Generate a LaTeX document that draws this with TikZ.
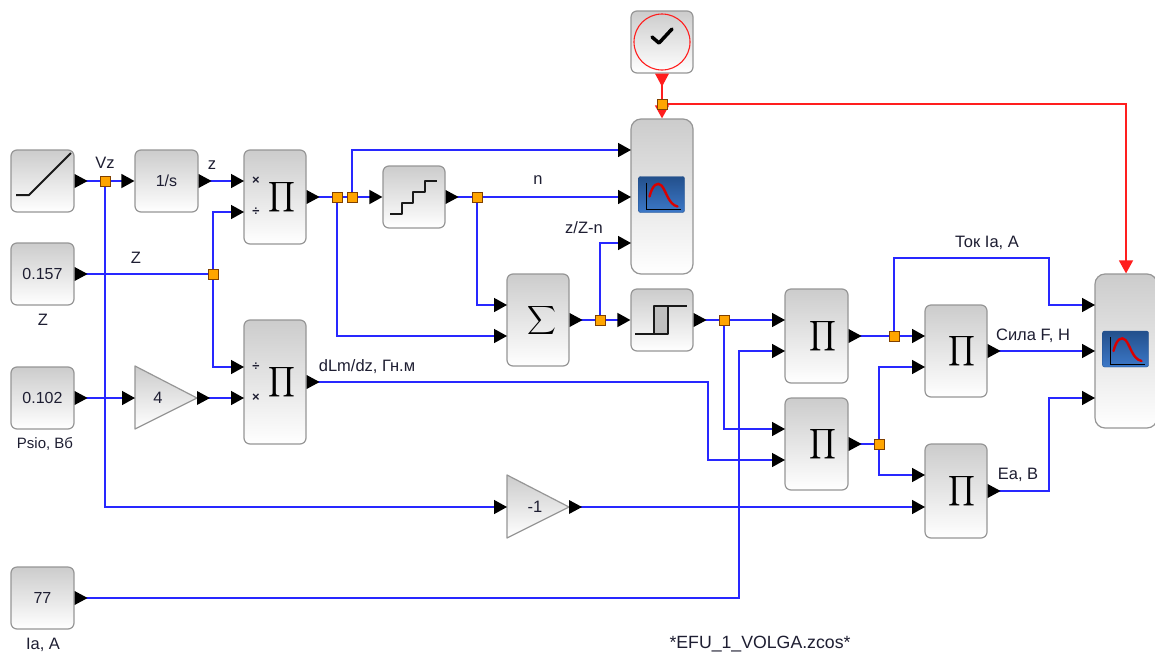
\documentclass[tikz,border=0pt]{standalone}
\usepackage{fontspec}
\setmainfont{Liberation Sans}
\usetikzlibrary{arrows.meta,calc}
\definecolor{wireblue}{RGB}{40,40,255}
\definecolor{wirered}{RGB}{255,30,30}
\definecolor{junc}{RGB}{255,165,0}
\definecolor{blkedge}{RGB}{150,150,150}
\definecolor{txtc}{RGB}{30,30,50}
\definecolor{icontop}{RGB}{35,80,140}
\definecolor{iconbot}{RGB}{60,120,200}
\tikzset{
  blockbox/.style={draw=blkedge,line width=1.2pt,rounded corners=6pt,top color=black!20,bottom color=white,
    inner sep=0pt,text=txtc,font=\fontsize{16}{18}\selectfont},
  wire/.style={draw=wireblue,line width=1.5pt},
  inwire/.style={wire,-{Triangle[length=13pt,width=14pt,color=black]}},
  redwire/.style={draw=wirered,line width=1.5pt},
  redin/.style={redwire,-{Triangle[length=13pt,width=14pt,color=wirered]}},
  joint/.style={draw=black!50!orange,fill=junc,line width=0.7pt,minimum size=10pt,inner sep=0pt},
  lbl/.style={text=txtc,font=\fontsize{16.5}{18}\selectfont,inner sep=0pt},
  signmark/.style={text=txtc,font=\fontsize{13}{14}\selectfont\bfseries,inner sep=0pt},
  face/.style={inner sep=0pt}
}
\newcommand{\blk}[6]{\node[blockbox,minimum width=#4pt-#2pt,minimum height=#5pt-#3pt] (#1) at ({(#2+#4)/2},{(#3+#5)/2}) {#6};}
\newcommand{\outT}[1]{\fill[black] (#1) ++(0,7) -- ++(13,-7) -- ++(-13,-7) -- cycle;}
\newcommand{\bigprod}{\scalebox{2.1}{$\displaystyle\prod$}}
\newcommand{\scopeicon}[2]{%
  \begin{scope}[shift={(#1,#2)}]
    \shade[top color=icontop,bottom color=iconbot,draw=icontop,rounded corners=2pt] (0,0) rectangle (46,36);
    \draw[black,line width=1pt] (8,6) -- (8,33) -- (42,33);
    \draw[red!85!black,line width=2.4pt,line cap=round] (11,20) .. controls (14,8) and (19,5) .. (23,9) .. controls (28,15) and (30,28) .. (39,30);
  \end{scope}}
\begin{document}
\begin{tikzpicture}[x=1pt,y=-1pt]
\useasboundingbox (0,0) rectangle (1155,659);
\fill[white] (0,0) rectangle (1155,659);
% blocks
\blk{ramp}{11}{150}{74}{212}{}
\blk{integ}{135}{150}{198}{212}{1/s}
\blk{prodA}{244}{150}{306}{244}{}
\blk{constZ}{11}{243}{74}{305}{0.157}
\blk{constPsi}{11}{367}{74}{429}{0.102}
\blk{prodB}{244}{320}{306}{444}{}
\blk{stair}{383}{166}{445}{228}{}
\blk{sumb}{507}{274}{569}{366}{}
\node[blockbox,rounded corners=10pt,minimum width=62pt,minimum height=155pt] (scopeA) at (662,196.5) {};
\blk{clock}{631}{11}{693}{73}{}
\blk{relay}{631}{289}{693}{351}{}
\blk{prodC}{785}{289}{848}{383}{}
\blk{prodD}{785}{398}{848}{490}{}
\blk{prodE}{925}{305}{987}{397}{}
\blk{prodF}{925}{444}{987}{538}{}
\node[blockbox,rounded corners=10pt,minimum width=62pt,minimum height=154pt] (scopeB) at (1126,351) {};
\blk{constIa}{11}{567}{74}{629}{77}
% gains
\shade[top color=black!20,bottom color=white,draw=blkedge,line width=1.2pt,line join=round] (135,366) -- (197,398) -- (135,429) -- cycle;
\shade[top color=black!20,bottom color=white,draw=blkedge,line width=1.2pt,line join=round] (507,475) -- (569,507) -- (507,538) -- cycle;
\node[lbl] (gainA) at (158,398) {4};
\node[lbl] (gainB) at (535,507) {-1};
\coordinate (gainAin) at (135,398); \coordinate (gainAout) at (197,398);
\coordinate (gainBin) at (507,507); \coordinate (gainBout) at (569,507);
% product faces
\node[face] (piA) at (282,197) {\bigprod};
\node[face] (piB) at (282,382) {\bigprod};
\node[face] (piC) at ($(prodC)+(6,0)$) {\bigprod};
\node[face] (piD) at ($(prodD)+(6,0)$) {\bigprod};
\node[face] (piE) at ($(prodE)+(6,0)$) {\bigprod};
\node[face] (piF) at ($(prodF)+(6,0)$) {\bigprod};
\node[face] (sigma) at ($(sumb)+(4,0)$) {\scalebox{2}{$\displaystyle\sum$}};
\node[signmark] (mA1) at (256,181) {×};
\node[signmark] (mA2) at (256,212) {÷};
\node[signmark] (mB1) at (256,367) {÷};
\node[signmark] (mB2) at (256,398) {×};
% icons
\draw[black!90,line width=2pt,line join=round] (16,195) -- (29,195) -- (71,153);
\draw[black!90,line width=2pt,line join=round] (390,214) -- (402,214) -- (402,203) -- (413,203) -- (413,192) -- (425,192) -- (425,181) -- (437,181);
\fill[black!25] (654,306) rectangle (668,334);
\draw[black!90,line width=1.7pt,line join=round] (635,334) -- (668,334) -- (668,306);
\draw[black!90,line width=1.7pt,line join=round] (654,334) -- (654,306) -- (687,306);
\draw[wirered,line width=1.1pt] (662,42) circle (28);
\draw[black,line width=3.5pt,line cap=round,line join=round] (652,37) -- (659,43) -- (672,29);
\scopeicon{638.5}{176.5}
\scopeicon{1102.5}{331}
% port coordinates
\coordinate (pAa) at (244,181); \coordinate (pAb) at (244,212);
\coordinate (pBa) at (244,367); \coordinate (pBb) at (244,398);
\coordinate (sAa) at (631,150); \coordinate (sAb) at (631,197); \coordinate (sAc) at (631,243);
\coordinate (sumA) at (507,305); \coordinate (sumB) at (507,336);
\coordinate (pCa) at (785,320); \coordinate (pCb) at (785,351);
\coordinate (pDa) at (785,429); \coordinate (pDb) at (785,460);
\coordinate (pEa) at (925,336); \coordinate (pEb) at (925,367);
\coordinate (pFa) at (925,475); \coordinate (pFb) at (925,507);
\coordinate (sBa) at (1095,305); \coordinate (sBb) at (1095,351); \coordinate (sBc) at (1095,398);
% joints, named first so that wires can refer to them
\node[joint] (jA) at (105,181) {};
\node[joint] (jB) at (213,274) {};
\node[joint] (jC) at (337,197) {};
\node[joint] (jD) at (352,197) {};
\node[joint] (jE) at (477,197) {};
\node[joint] (jF) at (600,320) {};
\node[joint] (jG) at (724,320) {};
\node[joint] (jH) at (894,336) {};
\node[joint] (jI) at (879,444) {};
\node[joint] (jJ) at (662,104) {};
% wires
\draw[wire] (ramp.east) -- (jA.center);
\draw[inwire] (jA.center) -- (integ.west);
\draw[inwire] (jA.center) -- (jA.center |- gainBin) -- (gainBin);
\draw[inwire] (integ.east) -- (pAa);
\draw[wire] (constZ.east) -- (jB.center);
\draw[inwire] (jB.center) -- (jB.center |- pAb) -- (pAb);
\draw[inwire] (jB.center) -- (jB.center |- pBa) -- (pBa);
\draw[inwire] (constPsi.east) -- (gainAin);
\draw[inwire] (gainAout) -- (pBb);
\draw[wire] (prodA.east) -- (jC.center);
\draw[wire] (jC.center) -- (jD.center);
\draw[inwire] (jD.center) -- (stair.west);
\draw[inwire] (jD.center) -- (jD.center |- sAa) -- (sAa);
\draw[inwire] (jC.center) -- (jC.center |- sumB) -- (sumB);
\draw[wire] (stair.east) -- (jE.center);
\draw[inwire] (jE.center) -- (sAb);
\draw[inwire] (jE.center) -- (jE.center |- sumA) -- (sumA);
\draw[wire] (sumb.east) -- (jF.center);
\draw[inwire] (jF.center) -- (relay.west);
\draw[inwire] (jF.center) -- (jF.center |- sAc) -- (sAc);
\draw[wire] (relay.east) -- (jG.center);
\draw[inwire] (jG.center) -- (pCa);
\draw[inwire] (jG.center) -- (jG.center |- pDa) -- (pDa);
\draw[inwire] (prodB.east) -- (708,382) -- (708,460) -- (pDb);
\draw[inwire] (constIa.east) -- (739,598) -- (739,351) -- (pCb);
\draw[wire] (prodC.east) -- (jH.center);
\draw[inwire] (jH.center) -- (pEa);
\draw[inwire] (jH.center) -- (894,258) -- (1049,258) -- (1049,305) -- (sBa);
\draw[wire] (prodD.east) -- (jI.center);
\draw[inwire] (jI.center) -- (jI.center |- pEb) -- (pEb);
\draw[inwire] (jI.center) -- (jI.center |- pFa) -- (pFa);
\draw[inwire] (gainBout) -- (pFb);
\draw[inwire] (prodE.east) -- (sBb);
\draw[inwire] (prodF.east) -- (1049,491) -- (1049,398) -- (sBc);
\draw[redwire] (clock.south) -- (jJ.center);
\draw[redin] (jJ.center) -- (scopeA.north);
\draw[redin] (jJ.center) -- (1126,104) -- (scopeB.north);
% output triangles
\foreach \p in {ramp.east,integ.east,prodA.east,constZ.east,constPsi.east,prodB.east,stair.east,sumb.east,relay.east,prodC.east,prodD.east,prodE.east,prodF.east,constIa.east,gainAout,gainBout}{\outT{\p}}
\fill[wirered] (clock.south) ++(-7,0) -- ++(14,0) -- ++(-7,13) -- cycle;
% joint faces over the wires
\foreach \j in {jA,jB,jC,jD,jE,jF,jG,jH,jI,jJ}{\node[joint] at (\j.center) {};}
% labels
\node[lbl] (tVz) at (105,163) {Vz};
\node[lbl] (tz) at (212,165) {z};
\node[lbl] (tZa) at (136,258) {Z};
\node[lbl] (tZb) at (43,320) {Z};
\node[lbl,font=\fontsize{15}{17}\selectfont] (tPsi) at (45,444) {Psio, Вб};
\node[lbl] (tIa) at (43,645) {Ia, A};
\node[lbl] (tn) at (538,180) {n};
\node[lbl] (tzZ) at (584,228) {z/Z-n};
\node[lbl] (tdL) at (367,367) {dLm/dz, Гн.м};
\node[lbl] (tTok) at (987,243) {Ток Ia, A};
\node[lbl] (tF) at (1033,336) {Сила F, Н};
\node[lbl] (tEa) at (1018,475) {Ea, В};
\node[lbl,font=\fontsize{17.7}{19}\selectfont] (tfile) at (760,644) {*EFU\_1\_VOLGA.zcos*};
\end{tikzpicture}
\end{document}
